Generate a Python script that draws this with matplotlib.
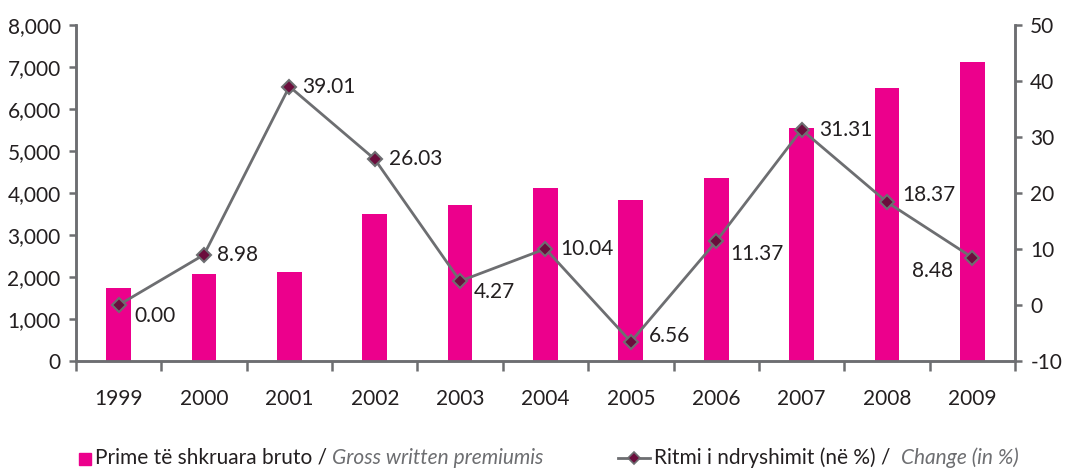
#!/usr/bin/env python3
"""Gross written premiums (bars) and yearly change in % (line), 1999-2009."""
import matplotlib
matplotlib.use("Agg")
import matplotlib.pyplot as plt
from matplotlib.patches import Rectangle
from matplotlib.lines import Line2D

# ---- Data ----
years = ["1999", "2000", "2001", "2002", "2003", "2004", "2005", "2006", "2007", "2008", "2009"]
premiums = [1745, 2070, 2120, 3500, 3710, 4120, 3830, 4360, 5555, 6500, 7120]
change = [0.00, 8.98, 39.01, 26.03, 4.27, 10.04, -6.56, 11.37, 31.31, 18.37, 8.48]
change_labels = ["0.00", "8.98", "39.01", "26.03", "4.27", "10.04", "6.56", "11.37", "31.31", "18.37", "8.48"]
left_ticks = [0, 1000, 2000, 3000, 4000, 5000, 6000, 7000, 8000]
right_ticks = [-10, 0, 10, 20, 30, 40, 50]

# label offsets in points (dx, dy, ha)
offsets = [(11, -8, "left"), (9, 0, "left"), (9, 0, "left"), (10, 0, "left"),
           (10, -8, "left"), (11, 0, "left"), (13, 4, "left"), (10, -9, "left"),
           (13, 0, "left"), (11, 5, "left"), (-14, -10, "right")]

PINK = "#ec008c"
GRAY = "#6d6e71"
MAROON = "#6b0d3c"
TXT = "#231f20"
FONT = ["Lato", "DejaVu Sans"]

plt.rcParams.update({
    "font.family": FONT,
    "font.size": 15,
    "text.color": TXT,
    "xtick.color": GRAY,
    "ytick.color": GRAY,
    "xtick.labelcolor": TXT,
    "ytick.labelcolor": TXT,
    "axes.unicode_minus": False,
})

fig = plt.figure(figsize=(10.7, 4.71), dpi=100)
ax = fig.add_axes([0.071, 0.2335, 0.8776, 0.7135])
x = list(range(len(years)))

ax.bar(x, premiums, width=0.29, color=PINK, zorder=2)
ax.set_xlim(-0.5, len(years) - 0.5)
ax.set_ylim(0, 8000)
ax.set_yticks(left_ticks)
ax.set_yticklabels([f"{v:,}" for v in left_ticks])
ax.set_xticks(x)
ax.set_xticklabels(years)
ax.set_xticks([i - 0.5 for i in range(len(years) + 1)], minor=True)
ax.tick_params(axis="x", which="major", length=0, pad=20)
ax.tick_params(axis="x", which="minor", length=7, width=1.8, direction="out")
ax.tick_params(axis="y", length=5, width=1.8, pad=6)

ax.spines["top"].set_visible(False)
for s in ["left", "bottom", "right"]:
    ax.spines[s].set_color(GRAY)
    ax.spines[s].set_linewidth(1.8)

ax2 = ax.twinx()
ax2.set_ylim(-10, 50)
ax2.set_yticks(right_ticks)
ax2.tick_params(axis="y", length=5, width=1.8, pad=6)
ax2.spines["top"].set_visible(False)
for s in ["left", "bottom", "right"]:
    ax2.spines[s].set_color(GRAY)
    ax2.spines[s].set_linewidth(1.8)
ax2.plot(x, change, color=GRAY, lw=2, marker="D", markersize=7,
         markerfacecolor=MAROON, markeredgecolor=GRAY, markeredgewidth=1.5, zorder=3)
for xi, v, lab, (dx, dy, ha) in zip(x, change, change_labels, offsets):
    ax2.annotate(lab, xy=(xi, v), xytext=(dx, dy), textcoords="offset points",
                 ha=ha, va="center", fontsize=15, color=TXT)

# ---- Legend (drawn manually to mix upright and italic text) ----
ly = 1 - 458 / 471
fig.patches.append(Rectangle((79 / 1070, ly - 0.014), 12 / 1070, 12 / 471,
                             transform=fig.transFigure, color=PINK, figure=fig))
fig.lines.append(Line2D([618 / 1070, 650 / 1070], [ly, ly], transform=fig.transFigure,
                        color=GRAY, lw=2, figure=fig))
fig.lines.append(Line2D([634 / 1070], [ly], transform=fig.transFigure, color=GRAY,
                        marker="D", markersize=6, markerfacecolor=MAROON,
                        markeredgecolor=GRAY, markeredgewidth=1.2, figure=fig))

renderer = fig.canvas.get_renderer()


def chain(xpx, parts, size):
    for txt, style, col in parts:
        t = fig.text(xpx / 1070, ly, txt, ha="left", va="center", fontsize=size,
                     style=style, color=col)
        bb = t.get_window_extent(renderer=renderer)
        xpx = bb.x1


chain(95, [("Prime të shkruara bruto / ", "normal", TXT),
           ("Gross written premiumis", "italic", GRAY)], 15)
chain(654, [("Ritmi i ndryshimit (në %) /  ", "normal", TXT),
            ("Change (in %)", "italic", GRAY)], 15)

fig.savefig("out.png", dpi=100)
